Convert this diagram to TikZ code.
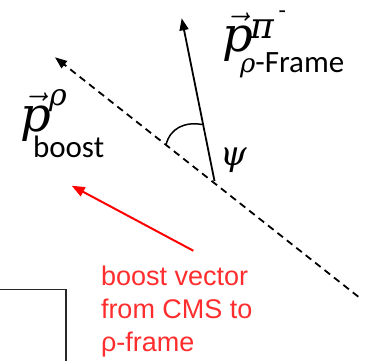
\RequirePackage{fix-cm}
\documentclass[tikz,border=0pt]{standalone}
\usepackage{fontspec}
\setsansfont{Carlito}
\newfontfamily\arialfont{Liberation Sans}
\newfontfamily\symfont{DejaVu Serif}
\usetikzlibrary{arrows.meta}
\definecolor{txtred}{RGB}{255,45,45}
\definecolor{boxgray}{RGB}{40,40,40}
\newcommand{\symit}[2]{{\fontsize{#1}{#1}\selectfont\symfont\itshape #2}}
\tikzset{
  lbl/.style={inner sep=0pt, outer sep=0pt, anchor=base west},
  vecline/.style={line width=1.8pt, -{Triangle[length=12pt,width=9pt]}},
  dashline/.style={vecline, dash pattern=on 7pt off 5pt},
  redline/.style={line width=2pt, red, -{Triangle[length=13pt,width=10pt]}},
  angarc/.style={line width=1.5pt},
  redtxt/.style={inner sep=0pt, outer sep=0pt, anchor=north west, align=left, text=txtred,
    font=\arialfont\fontsize{27}{33}\selectfont},
  boxline/.style={line width=1.6pt, boxgray}
}
\begin{document}
\begin{tikzpicture}[x=1pt,y=-1pt]
\useasboundingbox (0,0) rectangle (373,360);
% coordinates
\coordinate (dashEnd) at (358.3,296.7);
\coordinate (dashTip) at (55,57.3);
\coordinate (V) at (214.5,181);
\coordinate (piTip) at (181.7,18.3);
\coordinate (redStart) at (193.3,250.7);
\coordinate (redTip) at (71.7,185.7);
\coordinate (arcA) at (166,145);
\coordinate (arcB) at (202,124.5);
% connectors
\draw[dashline] (dashEnd) -- (dashTip);
\draw[vecline] (V) -- (piTip);
\draw[redline] (redStart) -- (redTip);
\draw[angarc] (arcA) .. controls (170,128) and (185,121.5) .. (arcB);
% box corner
\draw[boxline] (0,289.5) -- (65.7,289.5) -- (65.7,361);
% labels
\node[lbl] (pPi) at (222,51) {\fontsize{43}{43}\selectfont$\vec{\hbox{\symit{48}{p}}}$\rlap{\hspace{-2.7pt}\raisebox{13pt}{\symit{36}{π}}\hspace{5pt}\raisebox{33pt}[0pt][0pt]{\fontsize{24}{24}\selectfont\sffamily -}}\hspace{-12.7pt}\raisebox{-21pt}{\symit{26}{ρ}\fontsize{31}{31}\selectfont\sffamily -Frame}};
\node[lbl] (pBoost) at (20,131) {\fontsize{43}{43}\selectfont$\vec{\hbox{\symit{48}{p}}}$\rlap{\hspace{-1.7pt}\raisebox{26pt}{\symit{30}{ρ}}}\hspace{-17.7pt}\raisebox{-26pt}{\fontsize{31}{31}\selectfont\sffamily boost}};
\node[lbl] (psi) at (220,165) {\symit{34}{ψ}};
\node[redtxt] (boostTxt) at (101,265.5) {boost vector\\from CMS to\\ρ-frame};
\end{tikzpicture}
\end{document}
